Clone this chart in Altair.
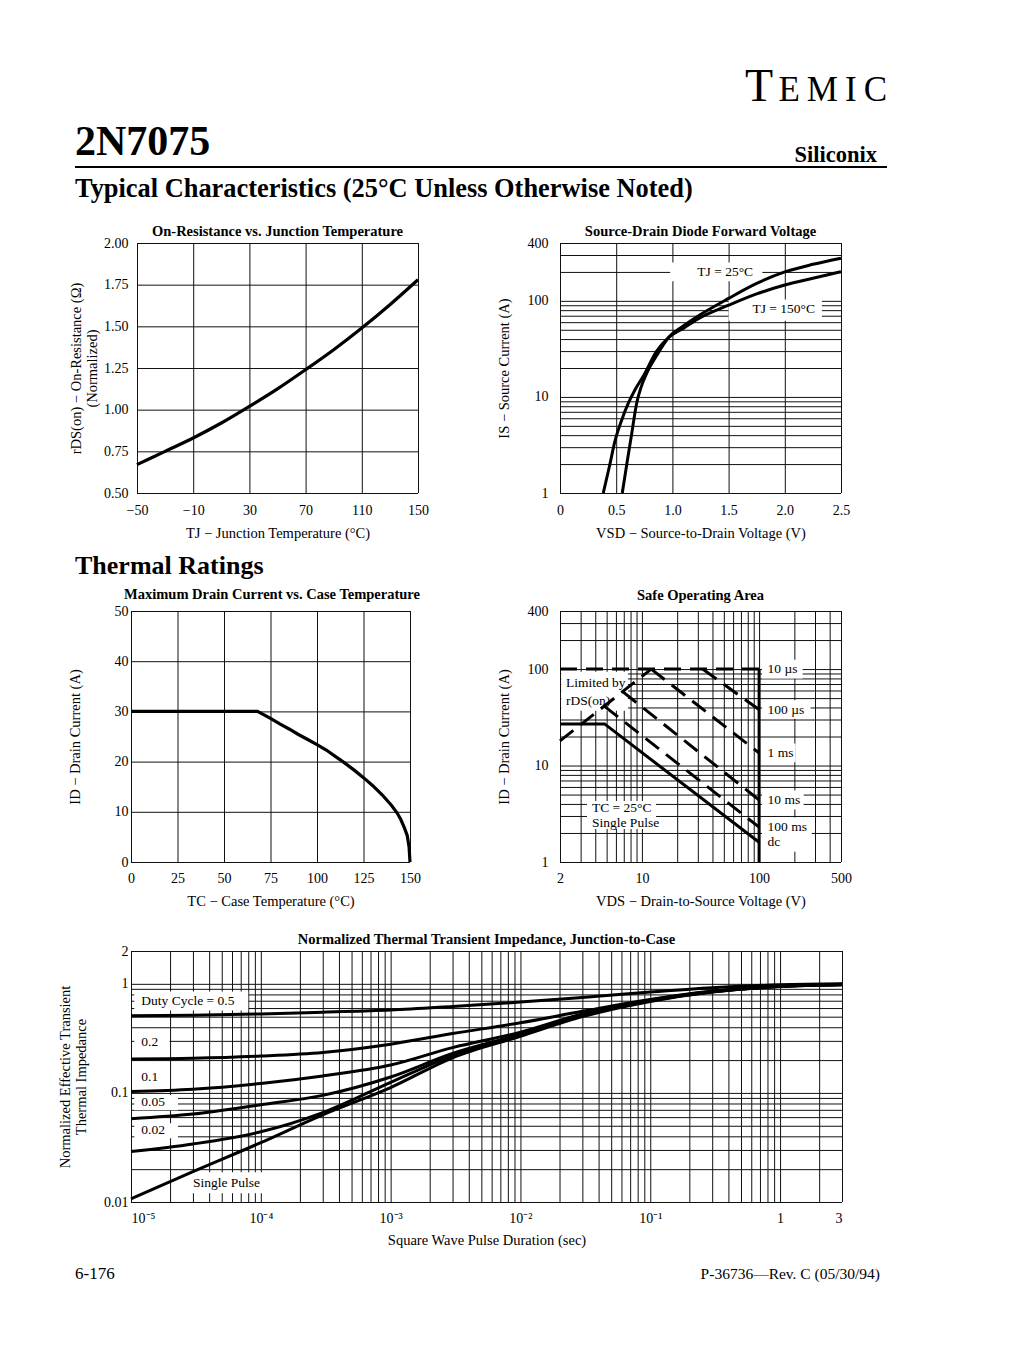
import altair as alt
import pandas as pd

FONT = "Liberation Serif"
INK = "#000000"
GRID = "#111111"
NOTE_SIZE = 13.5
TITLE_SIZE = 14.5

# ---------------- page texts ----------------
brand_first = "T"
brand_rest = "E\u2009M\u2009I\u2009C"
part_number = "2N7075"
division = "Siliconix"
section_typical = "Typical Characteristics (25\u00b0C Unless Otherwise Noted)"
section_thermal = "Thermal Ratings"
footer_page = "6-176"
footer_doc = "P-36736\u2014Rev. C (05/30/94)"

# ---------------- 1. On-resistance vs junction temperature ----------------
ron_title = "On-Resistance vs. Junction Temperature"
ron_x_title = "TJ  \u2212  Junction Temperature (\u00b0C)"
ron_y_title = ["rDS(on)  \u2212  On-Resistance (\u03a9)", "(Normalized)"]
ron_tj = [-50, -30, -10, 10, 30, 50, 70, 90, 110, 130, 150]
ron_value = [0.67, 0.75, 0.83, 0.92, 1.02, 1.125, 1.24, 1.36, 1.49, 1.63, 1.78]
ron_x_ticks = [-50, -10, 30, 70, 110, 150]
ron_y_ticks = [0.50, 0.75, 1.00, 1.25, 1.50, 1.75, 2.00]

# ---------------- 2. Source-drain diode forward voltage ----------------
sd_title = "Source-Drain Diode Forward Voltage"
sd_x_title = "VSD  \u2212  Source-to-Drain Voltage (V)"
sd_y_title = "IS  \u2212  Source Current (A)"
sd_v_25 = [0.554, 0.60, 0.64, 0.682, 0.72, 0.77, 0.86, 0.97, 1.1, 1.25, 1.5, 1.75, 2.0, 2.25, 2.5]
sd_i_25 = [1.0, 2.2, 4.3, 8.6, 12.5, 17.5, 27, 42, 55, 72, 106, 152, 200, 240, 278]
sd_v_150 = [0.385, 0.44, 0.49, 0.55, 0.608, 0.67, 0.742, 0.86, 0.97, 1.1, 1.25, 1.5, 1.75, 2.0, 2.25, 2.5]
sd_i_150 = [1.0, 1.9, 3.5, 5.8, 8.6, 12.0, 16.5, 30, 42, 52, 67, 90, 118, 146, 172, 201]
sd_x_ticks = [0, 0.5, 1.0, 1.5, 2.0, 2.5]
sd_y_grid = [1, 2, 3, 4, 5, 6, 7, 8, 9, 10, 20, 30, 40, 50, 60, 70, 80, 90, 100, 200, 300, 400]
sd_y_labels = [1, 10, 100, 400]
sd_notes = ["TJ = 25\u00b0C", "TJ = 150\u00b0C"]
sd_note_v = [1.47, 1.99]
sd_note_i = [201, 82]
sd_box_v1 = [0.98, 1.50]
sd_box_v2 = [1.80, 2.33]
sd_box_i1 = [160, 62]
sd_box_i2 = [250, 103]

# ---------------- 3. Maximum drain current vs case temperature ----------------
id_title = "Maximum Drain Current vs. Case Temperature"
id_x_title = "TC  \u2212  Case Temperature (\u00b0C)"
id_y_title = "ID  \u2212  Drain Current (A)"
id_tc = [0, 68, 75, 80, 85, 90, 95, 100, 105, 110, 115, 120, 125, 130, 135, 140, 143, 145, 147, 148.5, 149.5, 150]
id_amp = [30, 30, 28.6, 27.5, 26.5, 25.4, 24.4, 23.4, 22.3, 21.0, 19.7, 18.3, 16.8, 15.2, 13.4, 11.3, 9.8, 8.5, 6.8, 5.3, 3.0, 0]
id_x_ticks = [0, 25, 50, 75, 100, 125, 150]
id_y_ticks = [0, 10, 20, 30, 40, 50]

# ---------------- 4. Safe operating area ----------------
soa_title = "Safe Operating Area"
soa_x_title = "VDS  \u2212  Drain-to-Source Voltage (V)"
soa_y_title = "ID  \u2212  Drain Current (A)"
soa_rds_v, soa_rds_i = [2, 12], [18, 100]
soa_10us_v, soa_10us_i = [2, 100], [100, 100]
soa_100us_v, soa_100us_i = [33, 100], [100, 38]
soa_1ms_v, soa_1ms_i = [12, 100], [100, 13.5]
soa_10ms_v, soa_10ms_i = [6.9, 100], [58, 4.4]
soa_100ms_v, soa_100ms_i = [4.8, 100], [41, 2.3]
soa_dc_v, soa_dc_i = [2, 4.8, 100], [27, 27, 1.6]
soa_vmax_v, soa_vmax_i = [100, 100], [100, 1]
soa_x_grid = [2, 3, 4, 5, 6, 7, 8, 9, 10, 20, 30, 40, 50, 60, 70, 80, 90, 100, 200, 300, 400, 500]
soa_x_labels = [2, 10, 100, 500]
soa_y_grid = [1, 2, 3, 4, 5, 6, 7, 8, 9, 10, 20, 30, 40, 50, 60, 70, 80, 90, 100, 200, 300, 400]
soa_y_labels = [1, 10, 100, 400]
soa_notes = ["10 \u00b5s", "100 \u00b5s", "1 ms", "10 ms", "100 ms", "dc",
             "Limited by", "rDS(on)", "TC = 25\u00b0C", "Single Pulse"]
soa_note_v = [118, 118, 118, 118, 118, 118, 2.25, 2.25, 3.75, 3.75]
soa_note_i = [100, 38, 13.5, 4.4, 2.3, 1.6, 71, 47, 3.6, 2.55]
soa_box_v1 = [106, 106, 106, 106, 106, 106, 2.05, 3.4]
soa_box_v2 = [235, 275, 205, 240, 280, 280, 7.6, 13.2]
soa_box_i1 = [80, 30.5, 10.8, 3.5, 1.85, 1.28, 37, 2.2]
soa_box_i2 = [125, 47.5, 16.9, 5.5, 2.9, 2.0, 94, 4.3]

# ---------------- 5. Normalized thermal transient impedance ----------------
zth_title = "Normalized Thermal Transient Impedance, Junction-to-Case"
zth_x_title = "Square Wave Pulse Duration (sec)"
zth_y_title = ["Normalized Effective Transient", "Thermal Impedance"]
zth_t = [1e-5, 3e-5, 1e-4, 3e-4, 1e-3, 3e-3, 1e-2, 3e-2, 1e-1, 3e-1, 1, 3]
zth_d50 = [0.51, 0.515, 0.53, 0.55, 0.575, 0.62, 0.68, 0.75, 0.84, 0.92, 0.98, 1.0]
zth_d20 = [0.205, 0.208, 0.218, 0.235, 0.28, 0.35, 0.44, 0.56, 0.72, 0.86, 0.96, 0.99]
zth_d10 = [0.103, 0.108, 0.122, 0.143, 0.18, 0.26, 0.36, 0.53, 0.71, 0.85, 0.95, 0.985]
zth_d05 = [0.058, 0.064, 0.078, 0.095, 0.14, 0.23, 0.345, 0.52, 0.70, 0.845, 0.95, 0.985]
zth_d02 = [0.029, 0.034, 0.044, 0.066, 0.125, 0.22, 0.34, 0.51, 0.70, 0.845, 0.945, 0.98]
zth_single = [0.0107, 0.019, 0.035, 0.063, 0.112, 0.21, 0.33, 0.50, 0.69, 0.84, 0.945, 0.98]
zth_decades = [1e-5, 1e-4, 1e-3, 1e-2, 1e-1, 1]
zth_x_label_values = [1e-5, 1e-4, 1e-3, 1e-2, 1e-1, 1, 3]
zth_x_label_text = ["10\u207b\u2075", "10\u207b\u2074", "10\u207b\u00b3", "10\u207b\u00b2", "10\u207b\u00b9", "1", "3"]
zth_y_grid = [0.01, 0.02, 0.03, 0.04, 0.05, 0.06, 0.07, 0.08, 0.09,
              0.1, 0.2, 0.3, 0.4, 0.5, 0.6, 0.7, 0.8, 0.9, 1, 2]
zth_y_label_values = [0.01, 0.1, 1, 2]
zth_notes = ["Duty Cycle = 0.5", "0.2", "0.1", "0.05", "0.02", "Single Pulse"]
zth_note_t = [1.2e-5, 1.2e-5, 1.2e-5, 1.2e-5, 1.2e-5, 3.0e-5]
zth_note_z = [0.69, 0.29, 0.14, 0.083, 0.0455, 0.0149]
zth_box_t1 = [1.06e-5, 1.06e-5, 1.06e-5, 1.06e-5, 1.06e-5, 2.6e-5]
zth_box_t2 = [8.0e-5, 1.98e-5, 1.98e-5, 2.3e-5, 2.3e-5, 1.04e-4]
zth_box_z1 = [0.57, 0.232, 0.118, 0.0695, 0.0385, 0.0120]
zth_box_z2 = [0.85, 0.354, 0.162, 0.0955, 0.0528, 0.0187]

zth_x_grid = sorted({round(m * d, 12) for d in zth_decades for m in range(1, 10) if m * d <= 3.0001})


# ---------------- helpers ----------------
def label_expr(values, texts):
    expr = "''"
    for v, t in reversed(list(zip(values, texts))):
        expr = f"abs(datum.value / {v!r} - 1) < 0.001 ? '{t}' : ({expr})"
    return expr


def page_text(text, x, y, size, weight="normal", align="left"):
    return alt.Chart(pd.DataFrame({"label": [text]})).mark_text(
        font=FONT, fontSize=size, fontWeight=weight, align=align,
        baseline="alphabetic", color=INK,
    ).encode(x=alt.value(x), y=alt.value(y), text="label:N")


def notes_layer(df, X, Y, align="left", size=NOTE_SIZE):
    return alt.Chart(df).mark_text(
        font=FONT, fontSize=size, align=align, baseline="middle", color=INK
    ).encode(x=X, y=Y, text="label:N")


def boxes_layer(df, X, Y):
    return alt.Chart(df).mark_rect(color="white").encode(
        x=X, x2=alt.X2("x2"), y=Y, y2=alt.Y2("y2")
    )


def grid_layers(X, Y, xvals, yvals, xdom, ydom):
    vdf = pd.DataFrame({"x": xvals, "y": [ydom[0]] * len(xvals), "y2": [ydom[1]] * len(xvals)})
    hdf = pd.DataFrame({"y": yvals, "x": [xdom[0]] * len(yvals), "x2": [xdom[1]] * len(yvals)})
    v = alt.Chart(vdf).mark_rule(color=GRID, strokeWidth=1, xOffset=0.5).encode(
        x=X, y=Y, y2=alt.Y2("y2"))
    h = alt.Chart(hdf).mark_rule(color=GRID, strokeWidth=1, yOffset=0.5).encode(
        y=Y, x=X, x2=alt.X2("x2"))
    return [v, h]


def series_frame(pairs):
    rows = []
    for name, xs, ys in pairs:
        for a, b in zip(xs, ys):
            rows.append({"x": a, "y": b, "s": name})
    return pd.DataFrame(rows)


# ---------------- chart 1 ----------------
X1 = alt.X("x:Q", scale=alt.Scale(domain=[-50, 150], range=[6, 287], nice=False, zero=False),
           axis=alt.Axis(values=ron_x_ticks, title=ron_x_title, labelPadding=10, titlePadding=9))
Y1 = alt.Y("y:Q", scale=alt.Scale(domain=[0.5, 2.0], nice=False, zero=False),
           axis=alt.Axis(values=ron_y_ticks, format=".2f", title=ron_y_title,
                         labelPadding=3, titlePadding=4))
c1_line = alt.Chart(pd.DataFrame({"x": ron_tj, "y": ron_value})).mark_line(
    color=INK, strokeWidth=3.2, interpolate="monotone").encode(x=X1, y=Y1)
anchor = alt.Chart(pd.DataFrame({"a": [0]})).mark_rule(color="white", strokeWidth=1).encode(
    x=alt.value(-122.5), x2=alt.value(-121.5), y=alt.value(-234.5))
header_rule = alt.Chart(pd.DataFrame({"a": [0]})).mark_rule(color=INK, strokeWidth=2).encode(
    x=alt.value(-56), x2=alt.value(756), y=alt.value(-76))
c1 = alt.layer(
    anchor,
    *grid_layers(X1, Y1, ron_x_ticks, ron_y_ticks, [-50, 150], [0.5, 2.0]),
    c1_line,
    page_text(ron_title, 146.5, -7, TITLE_SIZE, "bold", "center"),
    page_text(brand_first, 614, -142, 46),
    page_text(brand_rest, 756, -142, 35, align="right"),
    page_text(part_number, -56, -88, 42, "bold"),
    page_text(division, 746, -81, 22.5, "bold", "right"),
    header_rule,
    page_text(section_typical, -56, -46, 26.4, "bold"),
).properties(width=287, height=250)

# ---------------- chart 2 ----------------
X2 = alt.X("x:Q", scale=alt.Scale(domain=[0, 2.5], nice=False, zero=False),
           axis=alt.Axis(values=sd_x_ticks, title=sd_x_title, labelPadding=10, titlePadding=9,
                         labelExpr="datum.value == 0 ? '0' : format(datum.value, '.1f')"))
Y2 = alt.Y("y:Q", scale=alt.Scale(type="log", domain=[1, 400], nice=False),
           axis=alt.Axis(values=sd_y_labels, title=sd_y_title, labelPadding=12, titlePadding=16,
                         labelExpr=label_expr(sd_y_labels, [str(v) for v in sd_y_labels])))
sd_df = series_frame([("25", sd_v_25, sd_i_25), ("150", sd_v_150, sd_i_150)])
c2 = alt.layer(
    *grid_layers(X2, Y2, sd_x_ticks, sd_y_grid, [0, 2.5], [1, 400]),
    boxes_layer(pd.DataFrame({"x": sd_box_v1, "x2": sd_box_v2, "y": sd_box_i1, "y2": sd_box_i2}), X2, Y2),
    alt.Chart(sd_df).mark_line(color=INK, strokeWidth=3, interpolate="monotone").encode(
        x=X2, y=Y2, detail="s:N"),
    notes_layer(pd.DataFrame({"x": sd_note_v, "y": sd_note_i, "label": sd_notes}), X2, Y2, align="center"),
    page_text(sd_title, 140.5, -7, TITLE_SIZE, "bold", "center"),
).properties(width=281, height=250)

# ---------------- chart 3 ----------------
X3 = alt.X("x:Q", scale=alt.Scale(domain=[0, 150], range=[0, 279], nice=False, zero=False),
           axis=alt.Axis(values=id_x_ticks, title=id_x_title, labelPadding=9, titlePadding=9))
Y3 = alt.Y("y:Q", scale=alt.Scale(domain=[0, 50], range=[280, 29], nice=False, zero=False),
           axis=alt.Axis(values=id_y_ticks, title=id_y_title, labelPadding=3, titlePadding=32))
c3 = alt.layer(
    *grid_layers(X3, Y3, id_x_ticks, id_y_ticks, [0, 150], [0, 50]),
    alt.Chart(pd.DataFrame({"x": id_tc, "y": id_amp})).mark_line(
        color=INK, strokeWidth=3.2).encode(x=X3, y=Y3),
    page_text(id_title, 141, 17, TITLE_SIZE, "bold", "center"),
    page_text(section_thermal, -56, -8, 26, "bold"),
).properties(width=287, height=280)

# ---------------- chart 4 ----------------
X4 = alt.X("x:Q", scale=alt.Scale(type="log", domain=[2, 500], nice=False),
           axis=alt.Axis(values=soa_x_labels, title=soa_x_title, labelPadding=9, titlePadding=9,
                         labelExpr=label_expr(soa_x_labels, [str(v) for v in soa_x_labels])))
Y4 = alt.Y("y:Q", scale=alt.Scale(type="log", domain=[1, 400], range=[280, 29], nice=False),
           axis=alt.Axis(values=soa_y_labels, title=soa_y_title, labelPadding=12, titlePadding=16,
                         labelExpr=label_expr(soa_y_labels, [str(v) for v in soa_y_labels])))
soa_dashed = series_frame([
    ("rds", soa_rds_v, soa_rds_i), ("10us", soa_10us_v, soa_10us_i),
    ("100us", soa_100us_v, soa_100us_i), ("1ms", soa_1ms_v, soa_1ms_i),
    ("10ms", soa_10ms_v, soa_10ms_i), ("100ms", soa_100ms_v, soa_100ms_i),
])
soa_solid = series_frame([("dc", soa_dc_v, soa_dc_i), ("vmax", soa_vmax_v, soa_vmax_i)])
c4 = alt.layer(
    *grid_layers(X4, Y4, soa_x_grid, soa_y_grid, [2, 500], [1, 400]),
    boxes_layer(pd.DataFrame({"x": soa_box_v1, "x2": soa_box_v2, "y": soa_box_i1, "y2": soa_box_i2}), X4, Y4),
    alt.Chart(soa_dashed).mark_line(color=INK, strokeWidth=3, strokeDash=[17, 9]).encode(
        x=X4, y=Y4, detail="s:N"),
    alt.Chart(soa_solid).mark_line(color=INK, strokeWidth=3).encode(
        x=X4, y=Y4, detail="s:N"),
    notes_layer(pd.DataFrame({"x": soa_note_v, "y": soa_note_i, "label": soa_notes}), X4, Y4),
    page_text(soa_title, 140.5, 18, TITLE_SIZE, "bold", "center"),
).properties(width=281, height=280)

# ---------------- chart 5 ----------------
X5 = alt.X("x:Q", scale=alt.Scale(type="log", domain=[1e-5, 3], range=[0, 711], nice=False),
           axis=alt.Axis(values=zth_x_label_values, title=zth_x_title, labelPadding=9, titlePadding=8,
                         labelFlush=True,
                         labelExpr=label_expr(zth_x_label_values, zth_x_label_text)))
Y5 = alt.Y("y:Q", scale=alt.Scale(type="log", domain=[0.01, 2], nice=False),
           axis=alt.Axis(values=zth_y_label_values, title=zth_y_title, labelPadding=3, titlePadding=15,
                         labelExpr=label_expr(zth_y_label_values, [str(v) for v in zth_y_label_values])))
zth_df = series_frame([
    ("0.5", zth_t, zth_d50), ("0.2", zth_t, zth_d20), ("0.1", zth_t, zth_d10),
    ("0.05", zth_t, zth_d05), ("0.02", zth_t, zth_d02), ("single", zth_t, zth_single),
])
c5 = alt.layer(
    *grid_layers(X5, Y5, zth_x_grid, zth_y_grid, [1e-5, 3], [0.01, 2]),
    boxes_layer(pd.DataFrame({"x": zth_box_t1, "x2": zth_box_t2, "y": zth_box_z1, "y2": zth_box_z2}), X5, Y5),
    alt.Chart(zth_df).mark_line(color=INK, strokeWidth=3, interpolate="monotone").encode(
        x=X5, y=Y5, detail="s:N"),
    notes_layer(pd.DataFrame({"x": zth_note_t, "y": zth_note_z, "label": zth_notes}), X5, Y5),
    page_text(zth_title, 355.5, -7, TITLE_SIZE, "bold", "center"),
    page_text(footer_page, -56, 328, 17),
    page_text(footer_doc, 749, 328, 15.5, align="right"),
).properties(width=287, height=251)

chart = alt.concat(
    c1, c2, c3, c4, c5, columns=2, spacing={"row": 89, "column": 142},
).properties(
    bounds="flush", padding=0, background="white",
).configure_view(
    strokeWidth=0,
).configure_axis(
    labelFont=FONT, titleFont=FONT, labelFontSize=14, titleFontSize=14.5,
    labelColor=INK, titleColor=INK, titleFontWeight="normal",
    grid=False, ticks=False, domain=False, labelFlush=False, labelOverlap=False,
)

chart.save("out.html", embed_options={"renderer": "svg", "actions": False})
